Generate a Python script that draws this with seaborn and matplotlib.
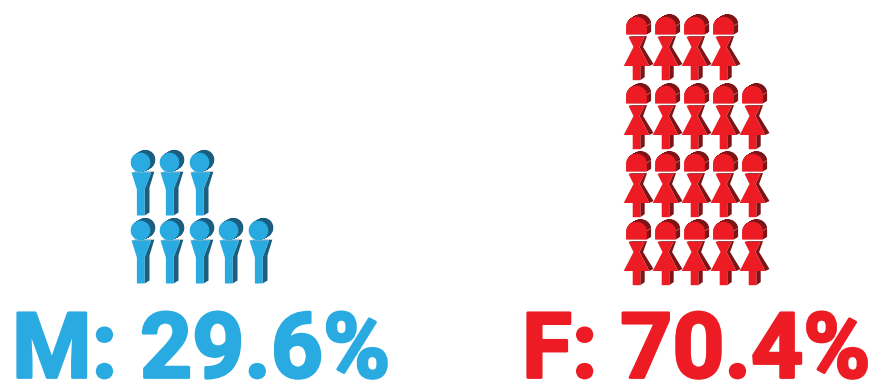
import numpy as np
import pandas as pd
import seaborn as sns
import matplotlib
matplotlib.use("Agg")
import matplotlib.pyplot as plt
import matplotlib.patheffects as pe
from matplotlib.markers import MarkerStyle
from matplotlib.path import Path

# Icons per row, top to bottom (one icon = one 1/27 share of the group)
male_rows = [3, 5]
female_rows = [4, 5, 5, 5]
labels = ["M: 29.6%", "F: 70.4%"]

BLUE, BLUE_DARK = "#29ABE2", "#1A5F80"
RED, RED_DARK = "#ED1C24", "#7E1416"
DPI = 100

sns.set_theme(style="white")
plt.rcParams["font.family"] = ["Roboto", "DejaVu Sans"]


def compound(polys):
    """Join closed polygons into one path."""
    verts, codes = [], []
    for p in polys:
        p = np.asarray(p, float)
        verts.extend(p.tolist() + [p[0].tolist()])
        codes.extend([Path.MOVETO] + [Path.LINETO] * (len(p) - 1) + [Path.CLOSEPOLY])
    return Path(verts, codes)


def extruded(poly, dx, dy, steps=8):
    """Copies of a polygon slid along the depth direction."""
    return [np.asarray(poly) + np.array([dx, dy]) * f for f in np.linspace(0.1, 1, steps)]


def circle(cx, cy, r, n=60):
    t = np.linspace(0, 2 * np.pi, n, endpoint=False)
    return np.c_[cx + r * np.cos(t), cy + r * np.sin(t)]


def dome(half, side, top, n=40):
    t = np.linspace(0, np.pi, n)
    arc = np.c_[half * np.cos(t), side + (top - side) * np.sin(t)]
    return np.vstack([[half, 0], arc, [-half, 0]])


# Male figure, in pixels around the head centre
m_front = compound([
    circle(0, 0, 9.8),
    [(-9, -10), (10.6, -10), (4, -27), (4, -53), (-3.6, -53), (-3.6, -27)],
])
m_back = compound(
    extruded(circle(0, 0, 9.8), 5.0, 2.8)
    + [
        [(-5.5, -9.2), (13.8, -9.2), (10.6, -10), (-9, -10)],
        [(10.6, -10), (13.8, -9.2), (9, -25), (9, -50), (4, -53), (4, -27)],
    ]
)

# Female figure, in pixels around the middle of the hair's lower edge
f_hair = dome(10.4, 8, 17.7)
f_front = compound([
    f_hair,
    [(-8, -2.4), (8, -2.4), (3, -12.5), (12.8, -31.5), (3.8, -31.5), (3.8, -45.7),
     (-3.8, -45.7), (-3.8, -31.5), (-12.8, -31.5), (-3, -12.5)],
])
f_back = compound(
    extruded(f_hair, 4.2, 2.6)
    + [
        [(-5, -1.6), (10.5, -1.6), (8, -2.4), (-8, -2.4)],
        [(8, -2.4), (10.5, -1.6), (6.6, -12.5), (17, -29.5), (12.8, -31.5), (3, -12.5)],
        [(3.8, -31.5), (8.2, -31.5), (8.2, -42.6), (3.8, -45.7)],
    ]
)
f_glint = compound([[(10.4, 8.4), (14.4, 10.8), (14.4, 11.4), (10.4, 9.0)]])


def place(ax, path, frame, color):
    """Scatter a vector icon at its true pixel size."""
    half = np.abs(path.vertices).max()
    size = (2 * half * 72 / DPI) ** 2
    sns.scatterplot(data=frame, x="x", y="y", marker=MarkerStyle(path), s=size,
                    color=color, linewidth=0, ax=ax, legend=False, clip_on=False, zorder=2)


def grid(rows, x0, y0, dx, dy):
    cells = [(x0 + c * dx, y0 + r * dy) for r, n in enumerate(rows) for c in range(n)]
    return pd.DataFrame(cells, columns=["x", "y"])


fig = plt.figure(figsize=(8.77, 3.81), dpi=DPI)
ax = fig.add_axes([0, 0, 1, 1])

men = grid(male_rows, 139.6, 161.7, 29.6, 68.3)
women = grid(female_rows, 636.4, 34.4, 29.0, 68.3)

place(ax, m_back, men, BLUE_DARK)
place(ax, m_front, men, BLUE)
place(ax, f_back, women, RED_DARK)
place(ax, f_glint, women, "#E8A0A0")
place(ax, f_front, women, RED)

ax.set_xlim(0, 877)
ax.set_ylim(381, 0)
ax.axis("off")

for text, x, color in zip(labels, (12, 522), (BLUE, RED)):
    ax.text(x, 377.5, text, color=color, fontsize=65.5, fontweight="bold", ha="left",
            va="baseline", path_effects=[pe.withStroke(linewidth=2.0, foreground=color)])

fig.savefig("out.png", dpi=DPI)
